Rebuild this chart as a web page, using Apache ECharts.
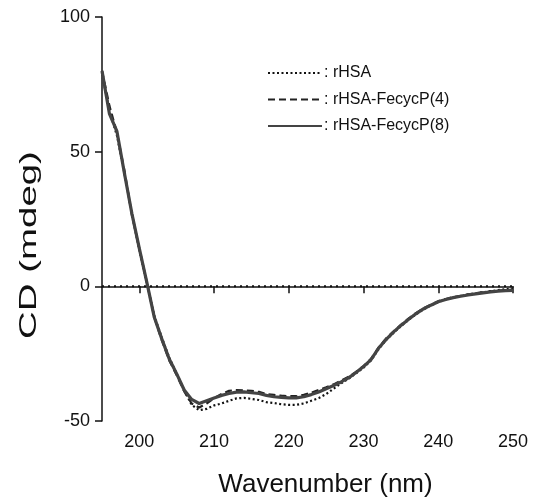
<!DOCTYPE html>
<html>
<head>
<meta charset="utf-8">
<script src="https://cdn.jsdelivr.net/npm/echarts@6/dist/echarts.min.js"></script>
<style>html,body{margin:0;padding:0;background:#fff;}#c{width:538px;height:503px;}</style>
</head>
<body>
<div id="c"></div>
<script>
var wavelengths = [195,196,197,198,199,200,201,202,203,204,205,206,207,208,209,210,211,212,213,214,215,216,217,218,219,220,221,222,223,224,225,226,227,228,229,230,231,232,233,234,235,236,237,238,239,240,241,242,243,244,245,246,247,248,249,250];
var rHSA = [79,65,56,42,27,13.5,1,-11,-19,-26.5,-32.5,-38.5,-44,-46,-45.5,-44.2,-43.5,-42.5,-41.6,-41.4,-41.8,-42.2,-43,-43.3,-43.8,-44,-44,-43.5,-42.5,-41.5,-40,-38,-36,-34.3,-32.3,-30.2,-27.5,-23.4,-20,-17.3,-14.8,-12.5,-10.4,-8.6,-7.1,-5.8,-4.9,-4.2,-3.6,-3.1,-2.6,-2.2,-1.8,-1.4,-1.1,-0.9];
var fecycP4 = [80,67,57,43,26.5,14,1.5,-11.5,-20,-27.5,-33,-39,-43.5,-45,-43.5,-41.5,-40,-38.8,-38.5,-38.6,-38.8,-39.2,-40,-40.3,-40.6,-40.8,-40.8,-40.3,-39.5,-38.5,-37.5,-36.4,-35,-33.6,-31.8,-29.6,-26.9,-22.8,-19.4,-16.8,-14.3,-12,-10,-8.2,-6.8,-5.5,-4.7,-4,-3.5,-3,-2.6,-2.2,-1.9,-1.6,-1.4,-1.3];
var fecycP8 = [80,64,57.5,42,27,14,1.5,-11.5,-19.5,-27,-32.5,-38.5,-42,-43.5,-42.5,-41.5,-40.5,-39.8,-39.3,-39.2,-39.5,-39.8,-40.5,-41,-41.2,-41.4,-41.4,-41,-40.2,-39.2,-38,-36.8,-35.5,-34,-32,-29.8,-27.2,-23,-19.8,-17,-14.5,-12.3,-10.2,-8.4,-7,-5.7,-4.9,-4.2,-3.7,-3.2,-2.8,-2.4,-2.1,-1.8,-1.6,-1.5];
var zeroLine = [[195,0],[250,0]];
var xTicks = [200,210,220,230,240,250];
var seriesNames = ['rHSA','rHSA-FecycP(4)','rHSA-FecycP(8)'];
var xTitle = 'Wavenumber (nm)';
var yTitle = 'CD (mdeg)';

function pairs(vals){ return wavelengths.map(function(w,i){ return [w, vals[i]]; }); }

var chart = echarts.init(document.getElementById('c'), null, {renderer:'canvas'});
var font = 'Liberation Sans, Arial, Helvetica, sans-serif';
chart.setOption({
  animation: false,
  backgroundColor: '#fff',
  grid: {left: 102, right: 25, top: 17, bottom: 77, containLabel: false},
  legend: {
    data: seriesNames,
    orient: 'vertical',
    left: 262, top: 60,
    itemWidth: 54, itemHeight: 14, itemGap: 10.5,
    formatter: ': {name}',
    itemStyle: {opacity: 0},
    textStyle: {fontFamily: font, fontSize: 16, color: '#111', padding: [0,0,0,-3]}
  },
  xAxis: {
    type: 'value', min: 195, max: 250,
    name: xTitle, nameLocation: 'middle', nameGap: 51,
    nameTextStyle: {fontFamily: font, fontSize: 26, color: '#111', padding: [0,0,0,36]},
    axisLine: {show: true, lineStyle: {color: '#111', width: 1.5}},
    axisTick: {show: true, length: 7, lineStyle: {color: '#111', width: 1.5}, customValues: xTicks},
    axisLabel: {fontFamily: font, fontSize: 18, color: '#111', margin: 12, customValues: xTicks},
    splitLine: {show: false}
  },
  yAxis: {
    type: 'value', min: -50, max: 100, interval: 50,
    axisLine: {show: true, onZero: false, lineStyle: {color: '#111', width: 1.5}},
    axisTick: {show: true, length: 7, lineStyle: {color: '#111', width: 1.5}},
    axisLabel: {fontFamily: font, fontSize: 18, color: '#111', margin: 12},
    splitLine: {show: false}
  },
  graphic: [{
    type: 'text', x: 29, y: 245, rotation: Math.PI / 2, scaleX: 1.6,
    style: {text: yTitle, font: '24px ' + font, fill: '#111', align: 'center', verticalAlign: 'middle'}
  }],
  series: [
    {name: 'zero', type: 'line', data: zeroLine, symbol: 'none', silent: true,
     lineStyle: {color: '#111', width: 2, type: [2, 4]}},
    {name: seriesNames[0], type: 'line', data: pairs(rHSA), symbol: 'none',
     lineStyle: {color: '#111', width: 2.2, type: [2, 2.5]}, itemStyle: {color: '#111'}},
    {name: seriesNames[1], type: 'line', data: pairs(fecycP4), symbol: 'none',
     lineStyle: {color: '#222', width: 2.2, type: [7, 4]}, itemStyle: {color: '#222'}},
    {name: seriesNames[2], type: 'line', data: pairs(fecycP8), symbol: 'none',
     lineStyle: {color: '#444', width: 3.2}, itemStyle: {color: '#444'}}
  ]
});
</script>
</body>
</html>
